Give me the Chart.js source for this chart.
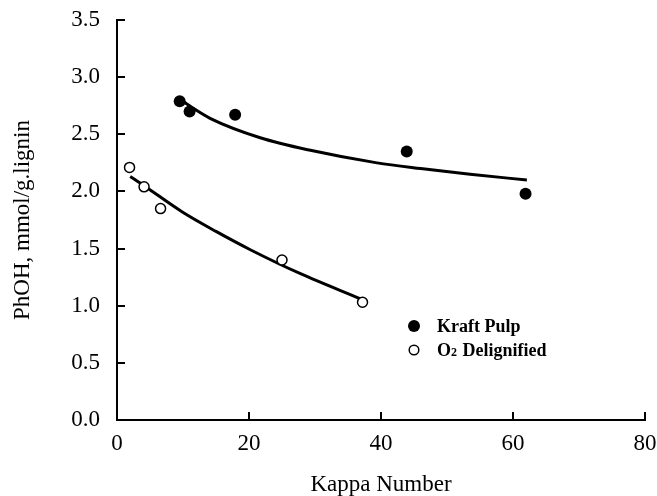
<!DOCTYPE html>
<html>
<head>
<meta charset="utf-8">
<script src="https://cdn.jsdelivr.net/npm/chart.js@4"></script>
<style>
  html, body { margin: 0; padding: 0; background: #fff; }
  #wrap { width: 657px; height: 496px; }
</style>
</head>
<body>
<div id="wrap"><canvas id="myChart" width="657" height="496"></canvas></div>
<script>
// measured points
const kraftKappa = [9.5, 11.0, 17.9, 43.9, 61.9];
const kraftPhOH = [2.79, 2.70, 2.67, 2.35, 1.98];
const o2Kappa = [1.9, 4.1, 6.6, 25.0, 37.2];
const o2PhOH = [2.21, 2.04, 1.85, 1.40, 1.03];

// fitted curves
const kraftFitKappa = [9.5, 11.5, 14.1, 21.7, 29.3, 39.4, 46, 53.5, 62.1];
const kraftFitPhOH = [2.81, 2.73, 2.64, 2.47, 2.36, 2.25, 2.20, 2.15, 2.10];
const o2FitKappa = [2.0, 4.1, 9.9, 15, 20.2, 27.8, 36.9];
const o2FitPhOH = [2.13, 2.05, 1.82, 1.65, 1.49, 1.28, 1.06];

const xTicks = [0, 20, 40, 60, 80];
const legendLabels = ['Kraft Pulp', 'O2 Delignified'];

const serif = '"Liberation Serif", "Times New Roman", serif';
const toXY = (xs, ys) => xs.map((x, i) => ({ x: x, y: ys[i] }));

// inward tick marks on both axes
const inwardTicks = {
  id: 'inwardTicks',
  afterDatasetsDraw(chart) {
    const ctx = chart.ctx;
    const xs = chart.scales.x, ys = chart.scales.y;
    const area = chart.chartArea;
    ctx.save();
    ctx.strokeStyle = '#000';
    ctx.lineWidth = 2;
    ys.ticks.forEach(t => {
      const py = Math.round(ys.getPixelForValue(t.value));
      ctx.beginPath();
      ctx.moveTo(area.left, py);
      ctx.lineTo(area.left + 8, py);
      ctx.stroke();
    });
    xs.ticks.forEach(t => {
      const px = Math.round(xs.getPixelForValue(t.value));
      if (t.value === 0) return;
      ctx.beginPath();
      ctx.moveTo(px, area.bottom);
      ctx.lineTo(px, area.bottom - 8);
      ctx.stroke();
    });
    ctx.restore();
  }
};

// legend drawn inside the plot
const innerLegend = {
  id: 'innerLegend',
  afterDraw(chart) {
    const ctx = chart.ctx;
    const lx = 414, ly = 326, gap = 24;
    ctx.save();
    ctx.fillStyle = '#000';
    ctx.strokeStyle = '#000';
    ctx.beginPath();
    ctx.arc(lx, ly, 6, 0, Math.PI * 2);
    ctx.fill();
    ctx.lineWidth = 1.5;
    ctx.beginPath();
    ctx.arc(lx, ly + gap, 4.8, 0, Math.PI * 2);
    ctx.fillStyle = '#fff';
    ctx.fill();
    ctx.stroke();
    ctx.fillStyle = '#000';
    ctx.textBaseline = 'alphabetic';
    ctx.font = 'bold 18px ' + serif;
    ctx.fillText(legendLabels[0], lx + 23, ly + 6);
    // O with subscript 2
    const parts = legendLabels[1].split('2');
    let tx = lx + 23;
    ctx.fillText(parts[0], tx, ly + gap + 6);
    tx += ctx.measureText(parts[0]).width;
    ctx.font = 'bold 12px ' + serif;
    ctx.fillText('2', tx, ly + gap + 6);
    tx += ctx.measureText('2').width + 1;
    ctx.font = 'bold 18px ' + serif;
    ctx.fillText(parts[1], tx, ly + gap + 6);
    ctx.restore();
  }
};

const data = {
  datasets: [
    {
      label: legendLabels[0],
      data: toXY(kraftKappa, kraftPhOH),
      showLine: false,
      pointRadius: 6,
      pointBackgroundColor: '#000',
      pointBorderColor: '#000',
      pointBorderWidth: 0,
      order: 0
    },
    {
      label: legendLabels[1],
      data: toXY(o2Kappa, o2PhOH),
      showLine: false,
      pointRadius: 5,
      pointBackgroundColor: '#fff',
      pointBorderColor: '#000',
      pointBorderWidth: 1.5,
      order: 0
    },
    {
      label: 'Kraft fit',
      data: toXY(kraftFitKappa, kraftFitPhOH),
      showLine: true,
      pointRadius: 0,
      borderColor: '#000',
      borderWidth: 3,
      cubicInterpolationMode: 'monotone',
      order: 1
    },
    {
      label: 'O2 fit',
      data: toXY(o2FitKappa, o2FitPhOH),
      showLine: true,
      pointRadius: 0,
      borderColor: '#000',
      borderWidth: 3,
      cubicInterpolationMode: 'monotone',
      order: 1
    }
  ]
};

const config = {
  type: 'scatter',
  data: data,
  options: {
    responsive: false,
    animation: false,
    events: [],
    layout: { padding: { top: 20, right: 12, left: 0, bottom: 0 } },
    plugins: {
      legend: { display: false },
      tooltip: { enabled: false }
    },
    scales: {
      x: {
        type: 'linear',
        min: 0,
        max: 80,
        afterBuildTicks: (scale) => { scale.ticks = xTicks.map(v => ({ value: v })); },
        afterFit: (scale) => {
          scale.height = 76;
          scale.paddingLeft = 0;
          scale.paddingRight = 0;
        },
        grid: { display: false, drawTicks: false },
        border: { display: true, color: '#000', width: 2 },
        ticks: {
          padding: 10,
          color: '#000',
          font: { family: serif, size: 23 },
          maxRotation: 0
        },
        title: {
          display: true,
          text: 'Kappa Number',
          color: '#000',
          font: { family: serif, size: 23 },
          padding: { top: 0, bottom: -3 }
        }
      },
      y: {
        min: 0,
        max: 3.5,
        afterFit: (scale) => {
          scale.width = 117;
          scale.paddingTop = 0;
          scale.paddingBottom = 0;
        },
        grid: { display: false, drawTicks: false },
        border: { display: true, color: '#000', width: 2 },
        ticks: {
          stepSize: 0.5,
          padding: 17,
          color: '#000',
          font: { family: serif, size: 23 },
          callback: (v) => v.toFixed(1)
        },
        title: {
          display: true,
          text: 'PhOH, mmol/g.lignin',
          color: '#000',
          font: { family: serif, size: 23 },
          padding: { top: 9, bottom: 0 }
        }
      }
    }
  },
  plugins: [inwardTicks, innerLegend]
};

const myChart = new Chart(document.getElementById('myChart'), config);
</script>
</body>
</html>
